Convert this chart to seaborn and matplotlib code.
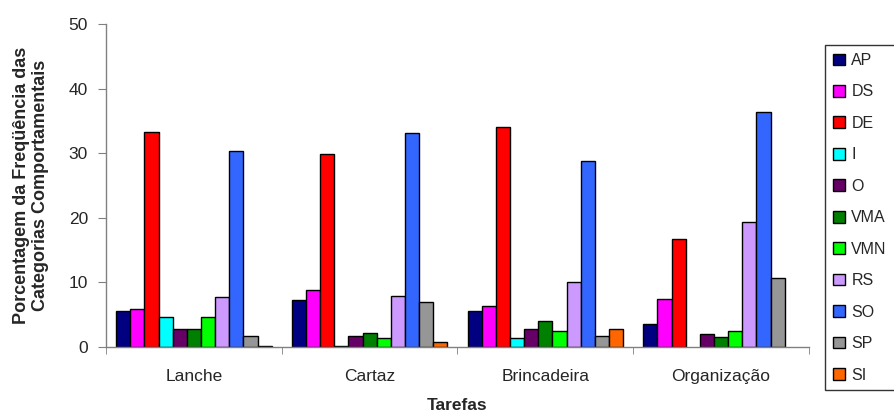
import pandas as pd
import numpy as np
import matplotlib.pyplot as plt
import seaborn as sns

tarefas = ["Lanche", "Cartaz", "Brincadeira", "Organização"]
categorias = ["AP", "DS", "DE", "I", "O", "VMA", "VMN", "RS", "SO", "SP", "SI"]

# valores por categoria, na ordem das tarefas
AP = [5.5, 7.3, 5.5, 3.5]
DS = [5.9, 8.8, 6.3, 7.5]
DE = [33.3, 29.8, 34.0, 16.7]
I = [4.6, 0.2, 1.35, np.nan]
O = [2.8, 1.7, 2.8, 2.0]
VMA = [2.8, 2.2, 4.0, 1.55]
VMN = [4.6, 1.35, 2.4, 2.4]
RS = [7.7, 7.9, 10.1, 19.3]
SO = [30.4, 33.2, 28.8, 36.4]
SP = [1.75, 6.9, 1.7, 10.7]
SI = [0.2, 0.8, 2.8, np.nan]

cores = ["#000080", "#FF00FF", "#FF0000", "#00FFFF", "#660066", "#008000",
         "#00FF00", "#CC99FF", "#3366FF", "#969696", "#FF6600"]

valores = [AP, DS, DE, I, O, VMA, VMN, RS, SO, SP, SI]
rows = []
for cat, vals in zip(categorias, valores):
    for t, v in zip(tarefas, vals):
        rows.append({"Tarefa": t, "Categoria": cat, "Valor": v})
df = pd.DataFrame(rows)

sns.set_style("white")
plt.rcParams['font.family'] = ['Liberation Sans', 'DejaVu Sans']

fig = plt.figure(figsize=(8.95, 4.17), dpi=100)
ax = fig.add_axes([106/895, 1-347/417, 703/895, 323/417])

sns.barplot(data=df, x="Tarefa", y="Valor", hue="Categoria", order=tarefas,
            hue_order=categorias, palette=cores, saturation=1, width=0.885,
            edgecolor="black", linewidth=1, errorbar=None, ax=ax)

ax.set_ylim(0, 50)
ax.set_xlim(-0.5, 3.5)
ax.set_yticks(np.arange(0, 51, 10))
ax.set_xticks(np.arange(-0.5, 3.6, 1), minor=True)
ax.tick_params(axis='x', which='major', length=0, labelsize=12.5, pad=16)
ax.tick_params(axis='x', which='minor', length=5, color='#808080', direction='out')
ax.tick_params(axis='y', length=6, color='#808080', direction='out', labelsize=12.5, pad=7)
ax.tick_params(axis='x', bottom=True, which='both')
ax.tick_params(axis='y', left=True)

for s in ['top', 'right']:
    ax.spines[s].set_visible(False)
for s in ['left', 'bottom']:
    ax.spines[s].set_color('#808080')
    ax.spines[s].set_linewidth(1)

ax.set_xlabel("Tarefas", fontsize=12.5, fontweight='bold', labelpad=10)
ax.set_ylabel("Porcentagem da Freqüência das\nCategorias Comportamentais",
              fontsize=13, fontweight='bold', labelpad=14)

handles, labels = ax.get_legend_handles_labels()
ax.legend(handles, labels, loc='upper left', bbox_to_anchor=(825/895, 1-45/417),
          bbox_transform=fig.transFigure, frameon=True, fancybox=False,
          edgecolor='black', fontsize=11.5, handlelength=0.75, handleheight=0.75,
          handletextpad=0.4, labelspacing=1.03, borderpad=0.5, borderaxespad=0)
ax.get_legend().get_frame().set_linewidth(1)

plt.savefig("out.png", dpi=100)
